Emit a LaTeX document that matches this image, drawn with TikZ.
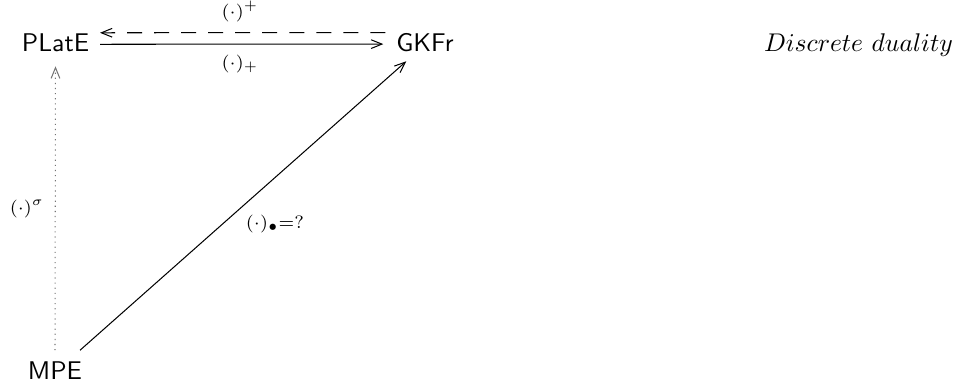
\documentclass[tikz,border=0pt]{standalone}
\usetikzlibrary{arrows.meta,calc}
\begin{document}
\begin{tikzpicture}[x=0.390625pt,y=-0.390625pt,
  obj/.style={inner sep=0pt,outer sep=0pt,font=\sffamily,anchor=base},
  lbl/.style={inner sep=0pt,outer sep=0pt,anchor=base},
  arr/.style={-{Straight Barb[length=4.2pt,width=3.4pt]},line width=0.4pt},
  dashedarr/.style={arr,dash pattern=on 5.86pt off 4.69pt},
  dottedarr/.style={arr,black!55,dash pattern=on 0.45pt off 1.55pt}]
\path[use as bounding box] (0,0) rectangle (960,388);
\node[obj] (plate) at (55.5,51) {PLatE};
\node[obj] (gkfr) at (425,51) {GKFr};
\node[obj] (mpe) at (55,379) {MPE};
\node[lbl] (dd) at (858.5,51) {$Discrete\ duality$};
% arrows
\draw[arr] ($(plate.east)+(11,2)$) -- ($(gkfr.west)+(-13,2)$);
\draw[dashedarr] ($(gkfr.west)+(-11,-9.5)$) -- ($(plate.east)+(11,-9.5)$);
\draw[dottedarr] ($(mpe.north)+(0,-11)$) -- ($(plate.south)+(0,15)$);
\draw[arr] ($(mpe.north east)+(-2,-11)$) -- ($(gkfr.south west)+(10,10)$);
% labels
\node[lbl] (lplus) at (240,17) {$\scriptstyle(\cdot)^{+}$};
\node[lbl] (lsub) at (240,68) {$\scriptstyle(\cdot)_{+}$};
\node[lbl] (lsig) at (27,213) {$\scriptstyle(\cdot)^{\sigma}$};
\node[lbl] (lbul) at (275,228) {$\scriptstyle(\cdot)_{\bullet}=?$};
\end{tikzpicture}
\end{document}
